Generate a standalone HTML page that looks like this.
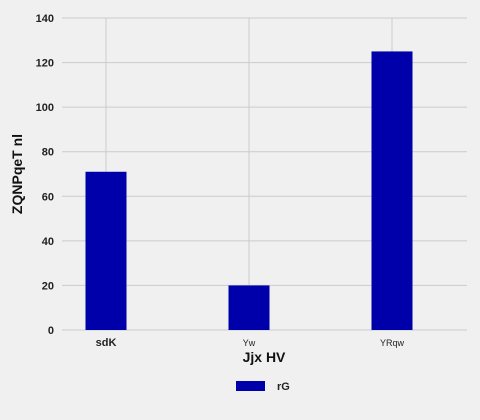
<!DOCTYPE html>
<html><head><meta charset="utf-8"><style>
body{margin:0;background:#f0f0f0;}
svg{display:block;font-family:"Liberation Sans",sans-serif;}
</style></head><body>
<svg id="c" width="480" height="420">
<rect width="480" height="420" fill="#f0f0f0"/>
</svg>
<script>
const categories=["sdK","Yw","YRqw"];
const values=[71,20,125];
const yTicks=[0,20,40,60,80,100,120,140];
const NS="http://www.w3.org/2000/svg";
const svg=document.getElementById('c');
const x0=62,x1=467,yTop=18,yBot=330,yMax=140;
const y=v=>yBot-(v/yMax)*(yBot-yTop);
const step=143;
const xc=i=>106+i*step;
function el(t,a,txt){const e=document.createElementNS(NS,t);for(const k in a)e.setAttribute(k,a[k]);if(txt!==undefined)e.textContent=txt;svg.appendChild(e);return e;}
yTicks.forEach(t=>{
  const g=el('line',{x1:x0,x2:x1,y1:y(t),y2:y(t),stroke:'#cbcbcb','stroke-width':1});
  
  
  const l=el('text',{x:54,y:y(t)+4,'text-anchor':'end','font-size':11,'font-weight':'bold',fill:'#222'},t);
  
  
});
categories.forEach((c,i)=>{
  const g=el('line',{x1:xc(i),x2:xc(i),y1:yTop,y2:yBot,stroke:'#cbcbcb','stroke-width':1});
  
  
});
categories.forEach((c,i)=>{
  const b=el('rect',{x:xc(i)-20.5,y:y(values[i]),width:41,height:yBot-y(values[i]),fill:'#0000aa'});
  
  
  const bold=i===0;
  const l=el('text',{x:xc(i),y:346,'text-anchor':'middle','font-size':bold?11:9,'font-weight':bold?'bold':'normal',fill:'#222'},c);
  
  
});
const xt=el('text',{x:264,y:362,'text-anchor':'middle','font-size':14,'font-weight':'bold',fill:'#111'},'Jjx HV');


const yt=el('text',{x:22,y:174,'text-anchor':'middle','font-size':14,'font-weight':'bold',fill:'#111',transform:'rotate(-90 22 174)'},'ZQNPqeT nl');


const lb=el('rect',{x:236,y:381,width:29,height:10,fill:'#0000aa'});


const lt=el('text',{x:277,y:390,'font-size':11,'font-weight':'bold',fill:'#222'},'rG');


</script>
</body></html>
